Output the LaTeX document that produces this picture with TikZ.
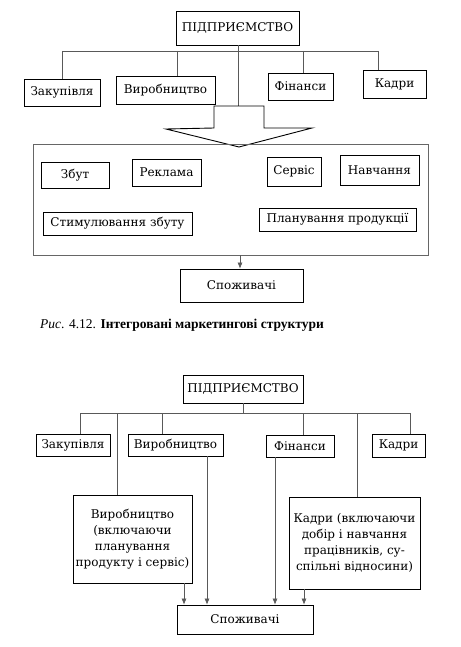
\documentclass[tikz,border=0pt]{standalone}
\usepackage{fontspec}
\setmainfont{Liberation Serif}
\newfontfamily\boxfont{DejaVu Serif}
\usetikzlibrary{arrows.meta}
\begin{document}
\begin{tikzpicture}[x=1pt,y=-1pt,
  box/.style={draw=black,line width=0.9pt,fill=white,inner sep=0pt,align=center,
    font=\boxfont\fontsize{12}{16}\selectfont},
  frame/.style={draw=black!60,line width=0.6pt},
  conn/.style={draw=black!65,line width=0.5pt},
  arr/.style={conn,-{Latex[length=6pt,width=5pt]}},
  bigarrow/.style={draw=black,line width=0.9pt}]
\useasboundingbox[fill=white] (0,0) rectangle (460,647);

% ---------- upper diagram ----------
\node[box,minimum width=123pt,minimum height=34pt] (top1) at (237.5,28) {ПІДПРИЄМСТВО};
\node[box,minimum width=76pt,minimum height=27pt] (zak1) at (62,92.5) {Закупівля};
\node[box,minimum width=99pt,minimum height=28pt] (vyr1) at (165.5,90) {Виробництво};
\node[box,minimum width=65pt,minimum height=27pt] (fin1) at (300.5,86.5) {Фінанси};
\node[box,minimum width=63pt,minimum height=28pt] (kad1) at (394.5,84) {Кадри};

\coordinate (busL1) at (62,51);
\coordinate (busR1) at (378,51);
\draw[conn] (busL1) -- (busR1);
\draw[conn] (busL1) -- (zak1.north);
\draw[conn] (177,51) -- (177,51 |- vyr1.north);
\draw[conn] (303,51) -- (303,51 |- fin1.north);
\draw[conn] (busR1) -- (busR1 |- kad1.north);

\coordinate (atop) at (238.5,106);
\draw[conn] (top1.south -| atop) -- (atop);
\draw[bigarrow] (214,106) -- (214,128) -- (166,129) -- (239,147) -- (312,128) -- (264,128) -- (264,106) -- cycle;

\node[frame,minimum width=395pt,minimum height=111pt,inner sep=0pt] (cont) at (230.5,199.5) {};
\node[box,minimum width=68pt,minimum height=26pt] (zbut) at (75,175) {Збут};
\node[box,minimum width=69pt,minimum height=27pt] (rekl) at (166.5,172.5) {Реклама};
\node[box,minimum width=54pt,minimum height=29pt] (serv) at (294,171.5) {Сервіс};
\node[box,minimum width=79pt,minimum height=30pt] (navch) at (379.5,170) {Навчання};
\node[box,minimum width=149pt,minimum height=23pt] (stym) at (117.5,223.5) {Стимулювання збуту};
\node[box,minimum width=157pt,minimum height=23pt] (plan) at (337.5,219.5) {Планування продукції};

\node[box,minimum width=123pt,minimum height=33pt] (spoz1) at (241.5,285.5) {Споживачі};
\draw[arr] (cont.south -| 240,0) -- (240,0 |- spoz1.north);

\node[anchor=west,inner sep=0pt,font=\fontsize{13.5}{16}\selectfont] (cap) at (40,325)
  {\textit{Рис}. 4.12. \textbf{Інтегровані маркетингові структури}};

% ---------- lower diagram ----------
\node[box,minimum width=120pt,minimum height=28pt] (top2) at (243,389) {ПІДПРИЄМСТВО};
\node[box,minimum width=74pt,minimum height=22pt] (zak2) at (73,445) {Закупівля};
\node[box,minimum width=95pt,minimum height=22pt] (vyr2) at (175.5,445) {Виробництво};
\node[box,minimum width=68pt,minimum height=22pt] (fin2) at (300,446) {Фінанси};
\node[box,minimum width=53pt,minimum height=23pt] (kad2) at (398.5,445.5) {Кадри};

\node[box,minimum width=119pt,minimum height=88pt] (vyrB) at (132.5,539)
  {Виробництво\\(включаючи\\планування\\продукту і сервіс)};
\node[box,minimum width=131pt,minimum height=92pt] (kadB) at (354.5,543)
  {Кадри (включаючи\\добір і навчання\\працівників, су-\\спільні відносини)};

\node[box,minimum width=136pt,minimum height=29pt] (spoz2) at (245,619.5) {Споживачі};

\coordinate (busL2) at (80,413);
\coordinate (busR2) at (410,413);
\draw[conn] (busL2) -- (busR2);
\draw[conn] (top2.south) -- (top2.south |- busL2);
\draw[conn] (busL2) -- (busL2 |- zak2.north);
\draw[conn] (162,413) -- (162,413 |- vyr2.north);
\draw[conn] (303,413) -- (303,413 |- fin2.north);
\draw[conn] (busR2) -- (busR2 |- kad2.north);
\draw[conn] (117,413) -- (117,413 |- vyrB.north);
\draw[conn] (357,413) -- (357,413 |- kadB.north);

\draw[arr] (vyrB.south -| 184,0) -- (184,0 |- spoz2.north);
\draw[arr] (vyr2.south -| 207,0) -- (207,0 |- spoz2.north);
\draw[arr] (fin2.south -| 275,0) -- (275,0 |- spoz2.north);
\draw[arr] (kadB.south -| 304,0) -- (304,0 |- spoz2.north);
\end{tikzpicture}
\end{document}
